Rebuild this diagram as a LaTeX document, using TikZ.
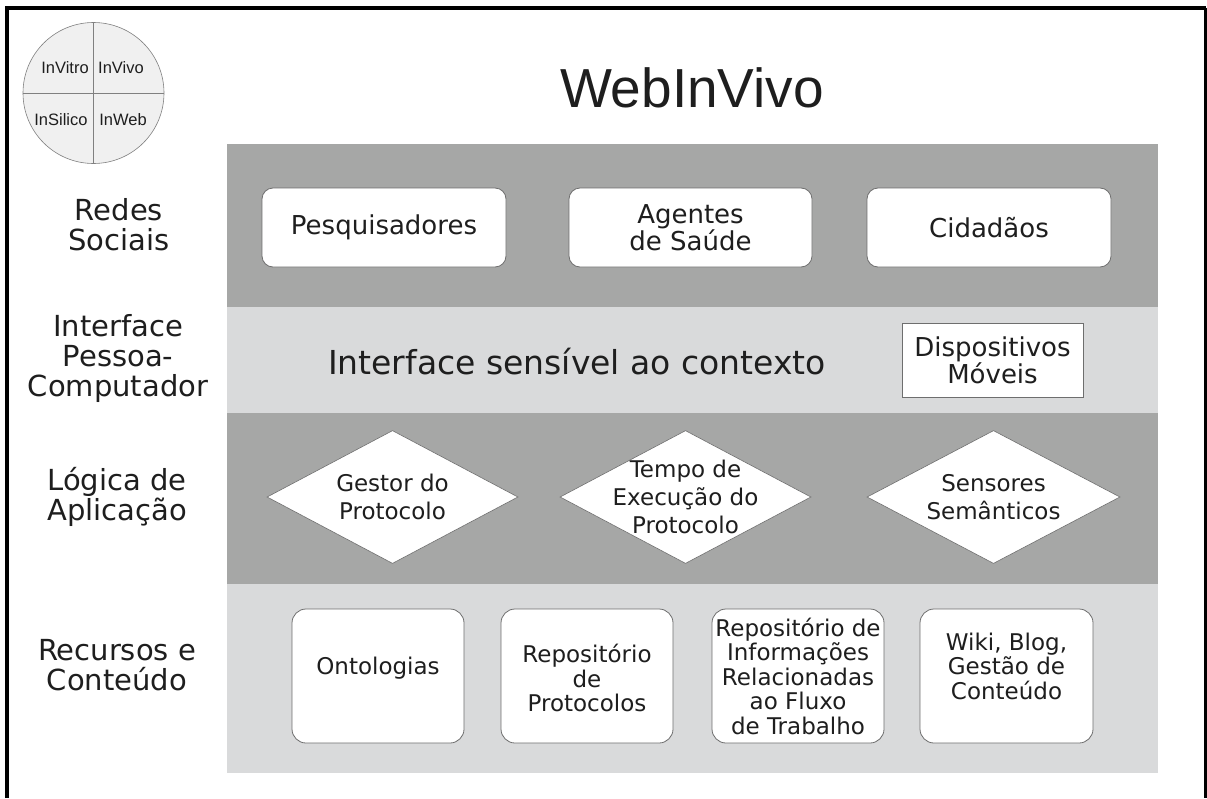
\documentclass[tikz,border=0pt]{standalone}
\usepackage{fontspec}
\setmainfont{DejaVu Sans}
\newfontfamily\arialfont{Liberation Sans}
\usetikzlibrary{shapes.geometric}
\definecolor{darkband}{HTML}{A6A7A6}
\definecolor{lightband}{HTML}{D9DADB}
\definecolor{boxline}{HTML}{6E6E6E}
\definecolor{circfill}{HTML}{F0F0F0}
\definecolor{txt}{HTML}{1E1E1E}
\tikzset{
  sidelabel/.style={align=center, text=txt, font=\fontsize{29}{30}\selectfont, inner sep=0pt},
  topbox/.style={draw=boxline, fill=white, rounded corners=11pt, line width=0.8pt, inner sep=0pt},
  resbox/.style={draw=boxline, fill=white, rounded corners=14pt, line width=0.8pt, inner sep=0pt},
  lozenge/.style={draw=boxline, fill=white, diamond, inner sep=0pt, line width=0.6pt},
  boxtext/.style={align=center, text=txt, inner sep=0pt, font=\fontsize{23}{24.5}\selectfont},
  diatext/.style={align=center, text=txt, inner sep=0pt, font=\fontsize{23}{28}\selectfont},
  circtext/.style={text=txt, inner sep=0pt, font=\arialfont\fontsize{16.5}{18}\selectfont},
}
\begin{document}
\begin{tikzpicture}[x=1pt,y=-1pt]
\useasboundingbox (0,0) rectangle (1207,798);
\fill[white] (0,0) rectangle (1207,798);
% frame
\draw[line width=4pt] (7,798) -- (7,8) -- (1206,8);
\draw[line width=2.5pt] (1205.5,8) -- (1205.5,798);
% circle
\node[circle, draw=gray, fill=circfill, minimum size=141pt, inner sep=0pt, line width=0.6pt] (circ) at (93.5,93) {};
\draw[gray, line width=0.6pt] (circ.north) -- (circ.south);
\draw[gray, line width=0.6pt] (circ.west) -- (circ.east);
\node[circtext] (invitro) at (65,68) {InVitro};
\node[circtext] (invivo) at (121,68) {InVivo};
\node[circtext] (insilico) at (61,120) {InSilico};
\node[circtext] (inweb) at (123,120) {InWeb};
% title
\node[text=txt, inner sep=0pt, font=\arialfont\fontsize{55}{60}\selectfont] (title) at (692,88) {WebInVivo};
% bands
\fill[darkband] (227,144) rectangle (1158,307);
\fill[lightband] (227,307) rectangle (1158,413);
\fill[darkband] (227,413) rectangle (1158,584);
\fill[lightband] (227,584) rectangle (1158,773);
% side labels
\node[sidelabel] (l1) at (119,225) {Redes\\Sociais};
\node[sidelabel] (l2) at (118,358) {Interface\\Pessoa-\\Computador};
\node[sidelabel] (l3) at (117,497) {Lógica de\\Aplicação};
\node[sidelabel] (l4) at (117,665) {Recursos e\\Conteúdo};
% band 1
\node[topbox, minimum width=244pt, minimum height=79pt] (pesq) at (384,227.5) {};
\node[topbox, minimum width=243pt, minimum height=79pt] (agen) at (690.5,227.5) {};
\node[topbox, minimum width=244pt, minimum height=79pt] (cida) at (989,227.5) {};
\node[boxtext, font=\fontsize{26}{27}\selectfont] (pesqt) at (pesq.center) {Pesquisadores};
\node[boxtext, font=\fontsize{26}{27}\selectfont] (agent) at (agen.center) {Agentes\\de Saúde};
\node[boxtext, font=\fontsize{26}{27}\selectfont] (cidat) at (cida.center) {Cidadãos};
% band 2
\node[text=txt, inner sep=0pt, font=\fontsize{33}{36}\selectfont] (iface) at (577,362) {Interface sensível ao contexto};
\node[draw=boxline, fill=white, line width=0.8pt, minimum width=181pt, minimum height=74pt, inner sep=0pt] (disp) at (992.5,360) {};
\node[boxtext, font=\fontsize{26}{27}\selectfont] (dispt) at (disp.center) {Dispositivos\\Móveis};
% band 3
\node[lozenge, minimum width=251pt, minimum height=133pt] (gest) at (392.5,497) {};
\node[lozenge, minimum width=251pt, minimum height=133pt] (temp) at (685.5,497) {};
\node[lozenge, minimum width=253pt, minimum height=133pt] (sens) at (993.5,497) {};
\node[diatext] (gestt) at (gest.center) {Gestor do\\Protocolo};
\node[diatext] (tempt) at (temp.center) {Tempo de\\Execução do\\Protocolo};
\node[diatext] (senst) at (sens.center) {Sensores\\Semânticos};
% band 4
\node[resbox, minimum width=172pt, minimum height=134pt] (onto) at (378,676) {};
\node[resbox, minimum width=172pt, minimum height=134pt] (repp) at (587,676) {};
\node[resbox, minimum width=172pt, minimum height=134pt] (repi) at (798,676) {};
\node[resbox, minimum width=173pt, minimum height=134pt] (wiki) at (1006.5,676) {};
\node[boxtext] (ontot) at (378,668) {Ontologias};
\node[boxtext] (reppt) at (587,678) {Repositório\\de\\Protocolos};
\node[boxtext] (repit) at (798,676) {Repositório de\\Informações\\Relacionadas\\ao Fluxo\\de Trabalho};
\node[boxtext] (wikit) at (1006.5,666) {Wiki, Blog,\\Gestão de\\Conteúdo};
\end{tikzpicture}
\end{document}
